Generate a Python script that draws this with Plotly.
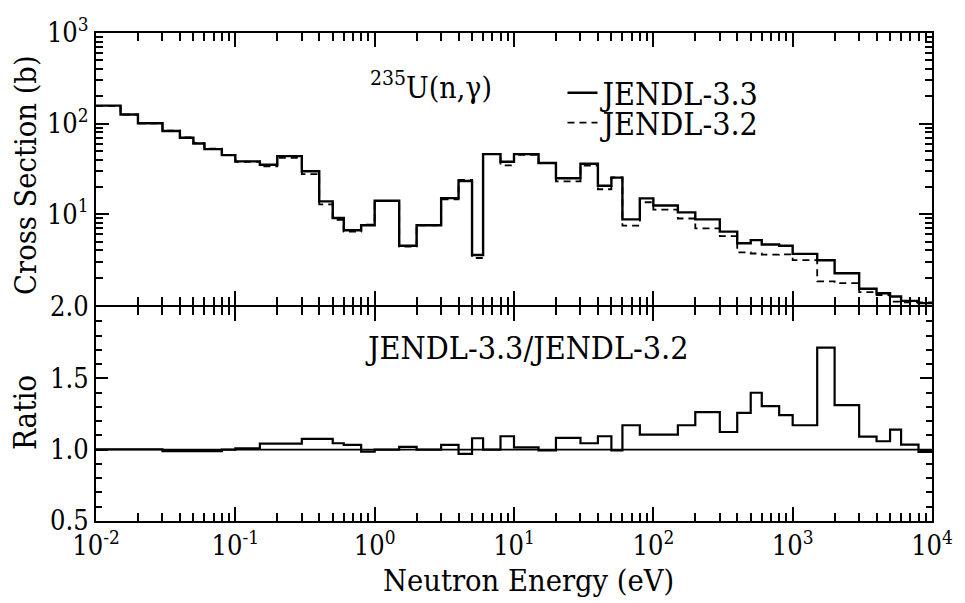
import plotly.graph_objects as go
from plotly.subplots import make_subplots

# ---- data ----
edges = [0.01, 0.015, 0.02, 0.03, 0.04, 0.05, 0.06, 0.08,
         0.1, 0.15, 0.2, 0.3, 0.4, 0.5, 0.6, 0.8,
         1, 1.5, 2, 3, 4, 5, 6, 8,
         10, 15, 20, 30, 40, 50, 60, 80,
         100, 150, 200, 300, 400, 500, 600, 800,
         1000, 1500, 2000, 3000, 4000, 5000, 6000, 8000, 10000]

jendl33 = [158, 126, 101, 83, 70, 60.4, 52.4, 45,
           38.4, 35.2, 43.9, 29.9, 13.9, 9.1, 6.67, 7.57,
           14.1, 4.5, 7.57, 15.1, 23.3, 3.56, 46.1, 38.0,
           46.1, 36.8, 25.0, 36.1, 20.7, 25.4, 8.8, 15.0,
           12.5, 10.5, 8.8, 6.45, 4.8, 5.2, 4.65, 4.5,
           3.66, 3.12, 2.24, 1.51, 1.35, 1.24, 1.11, 1.05]

jendl32 = [157.5, 125.6, 100.7, 83.8, 70.7, 61.0, 52.9, 45,
           38.0, 33.8, 42.1, 27.8, 12.9, 8.7, 6.46, 7.68,
           14.1, 4.42, 7.57, 14.6, 24.0, 3.3, 46.1, 34.7,
           45.4, 37.0, 23.1, 34.5, 18.9, 25.5, 7.5, 13.6,
           11.3, 9.0, 7.0, 5.75, 3.8, 3.7, 3.6, 3.62,
           3.13, 1.82, 1.74, 1.39, 1.29, 1.09, 1.07, 1.07]

ratio = [1.003, 1.003, 1.003, 0.99, 0.99, 0.99, 0.99, 1.0,
         1.01, 1.042, 1.042, 1.075, 1.075, 1.045, 1.033, 0.986,
         1.0, 1.019, 1.0, 1.033, 0.97, 1.08, 1.0, 1.094,
         1.016, 0.995, 1.082, 1.045, 1.094, 0.995, 1.171, 1.106,
         1.106, 1.171, 1.263, 1.124, 1.258, 1.399, 1.305, 1.242,
         1.171, 1.716, 1.312, 1.092, 1.059, 1.141, 1.035, 0.984]

x_tickvals = [0.01, 0.1, 1, 10, 100, 1000, 10000]
x_ticktext = ["10<sup>-2</sup>", "10<sup>-1</sup>", "10<sup>0</sup>", "10<sup>1</sup>",
              "10<sup>2</sup>", "10<sup>3</sup>", "10<sup>4</sup>"]
y1_tickvals = [10, 100, 1000]
y1_ticktext = ["10<sup>1</sup>", "10<sup>2</sup>", "10<sup>3</sup>"]
y2_tickvals = [0.5, 1.0, 1.5, 2.0]
y2_ticktext = ["0.5", "1.0", "1.5", "2.0"]

FONT = "DejaVu Serif Condensed, DejaVu Serif"

def steps(vals):
    return list(vals) + [vals[-1]]

fig = make_subplots(rows=2, cols=1, shared_xaxes=True, vertical_spacing=0,
                    row_heights=[274, 214])

fig.add_trace(go.Scatter(x=edges, y=steps(jendl32), mode="lines", line_shape="hv",
                         line=dict(color="black", width=1.8, dash="7px,5px"),
                         name="JENDL-3.2", legend="legend2"), row=1, col=1)
fig.add_trace(go.Scatter(x=edges, y=steps(jendl33), mode="lines", line_shape="hv",
                         line=dict(color="black", width=2.4),
                         name="JENDL-3.3", legend="legend"), row=1, col=1)
fig.add_trace(go.Scatter(x=edges, y=steps(ratio), mode="lines", line_shape="hv",
                         line=dict(color="black", width=2.2),
                         showlegend=False), row=2, col=1)
fig.add_hline(y=1.0, line=dict(color="black", width=1.6), row=2, col=1)

axis_common = dict(showline=True, linecolor="black", linewidth=2, mirror="ticks",
                   showgrid=False, zeroline=False, ticks="inside", tickcolor="black",
                   tickwidth=2, tickfont=dict(family=FONT, size=27, color="black"))

fig.update_xaxes(type="log", range=[-2, 4], tickmode="array",
                 tickvals=x_tickvals, ticktext=x_ticktext, ticklen=14,
                 minor=dict(dtick="D1", ticks="inside", ticklen=8,
                            tickcolor="black", tickwidth=1.6, showgrid=False),
                 **axis_common)
fig.update_xaxes(showticklabels=False, row=1, col=1)

fig.update_yaxes(type="log", range=[0, 3], tickmode="array",
                 tickvals=y1_tickvals, ticktext=y1_ticktext, ticklen=13,
                 minor=dict(dtick="D1", ticks="inside", ticklen=7, tickcolor="black",
                            tickwidth=1.6, showgrid=False),
                 row=1, col=1, **axis_common)
fig.update_yaxes(range=[0.5, 2.0], tickmode="array",
                 tickvals=y2_tickvals, ticktext=y2_ticktext, ticklen=12,
                 minor=dict(dtick=0.1, ticks="inside", ticklen=6, tickcolor="black",
                            tickwidth=1.6, showgrid=False),
                 row=2, col=1, **axis_common)

fig.update_yaxes(domain=[0.4426, 1.0], row=1, col=1)
fig.update_yaxes(domain=[0.0, 0.4385], row=2, col=1)

legend_common = dict(xanchor="left", yanchor="middle", bgcolor="rgba(0,0,0,0)",
                     borderwidth=0, font=dict(family=FONT, size=32, color="black"),
                     itemwidth=30)
fig.update_layout(
    width=965, height=603,
    margin=dict(l=96, r=31, t=33, b=82),
    paper_bgcolor="white", plot_bgcolor="white",
    font=dict(family=FONT),
    showlegend=True,
    legend=dict(x=0.558, y=0.877, **legend_common),
    legend2=dict(x=0.558, y=0.816, **legend_common),
    annotations=[
        dict(text="<sup>235</sup>U(n,γ)", x=0.401, y=0.893, xref="paper", yref="paper",
             xanchor="center", yanchor="middle", showarrow=False,
             font=dict(family=FONT, size=30, color="black")),
        dict(text="JENDL-3.3/JENDL-3.2", x=0.516, y=0.355, xref="paper", yref="paper",
             xanchor="center", yanchor="middle", showarrow=False,
             font=dict(family=FONT, size=32, color="black")),
        dict(text="Neutron Energy (eV)", x=0.517, y=-0.121, xref="paper", yref="paper",
             xanchor="center", yanchor="middle", showarrow=False,
             font=dict(family=FONT, size=30.5, color="black")),
        dict(text="Cross Section (b)", x=-0.085, y=0.709, xref="paper", yref="paper",
             xanchor="center", yanchor="middle", showarrow=False, textangle=-90,
             font=dict(family=FONT, size=30.5, color="black")),
        dict(text="Ratio", x=-0.085, y=0.223, xref="paper", yref="paper",
             xanchor="center", yanchor="middle", showarrow=False, textangle=-90,
             font=dict(family=FONT, size=31, color="black")),
    ],
)

fig.write_html("out.html")
